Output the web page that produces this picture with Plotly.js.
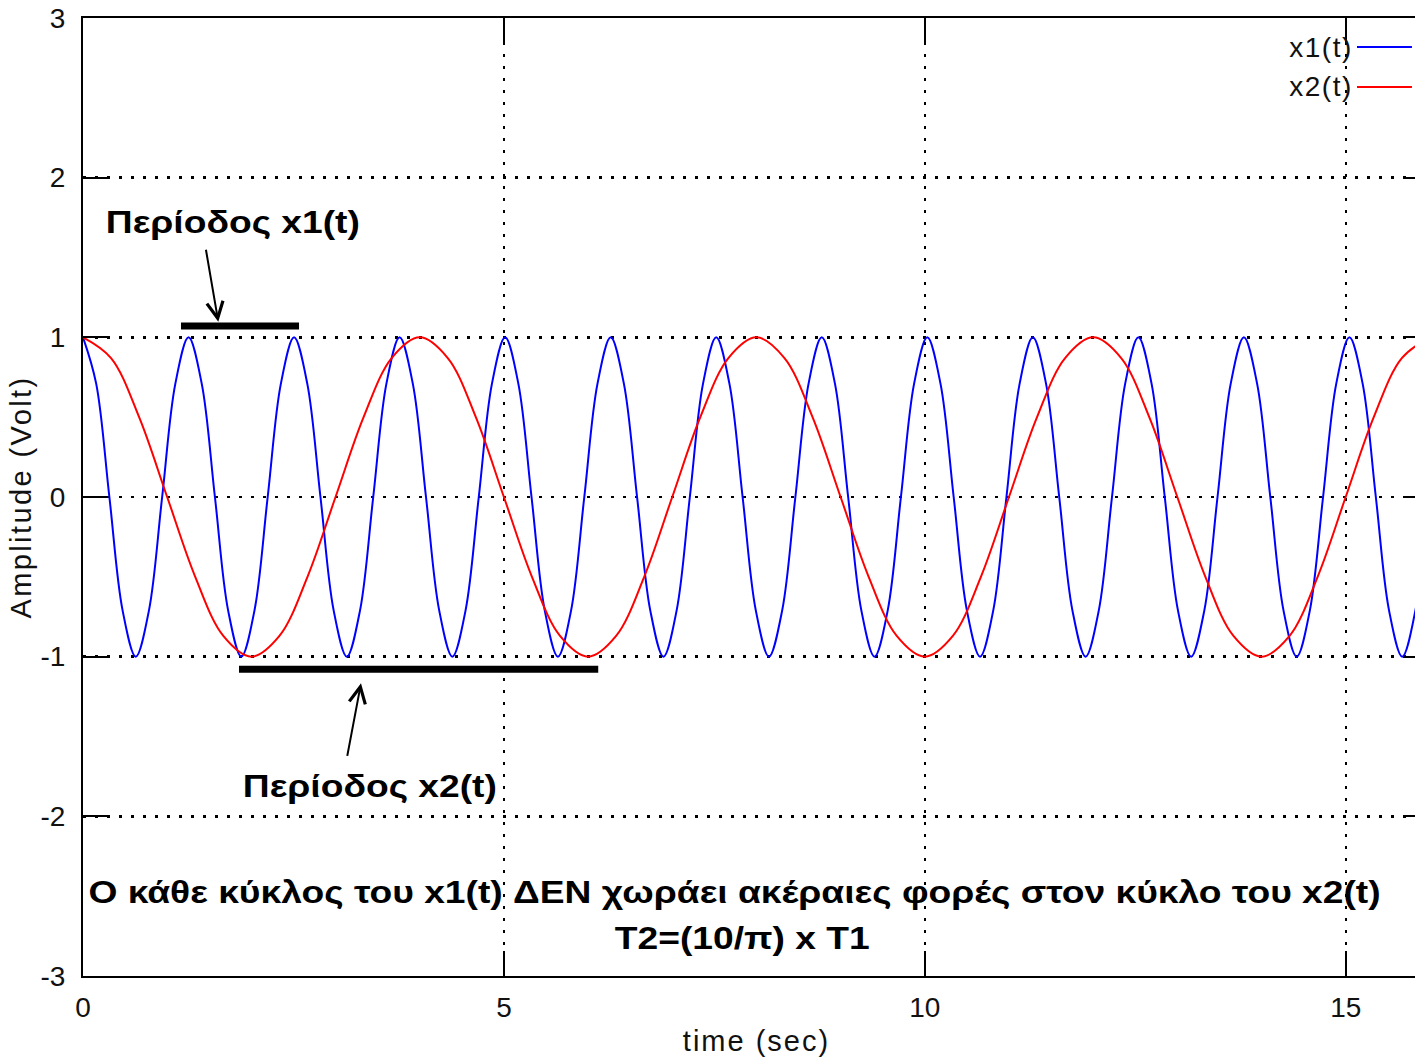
<!DOCTYPE html>
<html><head><meta charset="utf-8">
<script src="https://cdn.plot.ly/plotly-3.0.1.min.js"></script>
<style>
html,body{margin:0;padding:0;overflow:hidden;background:#fff}
#chart{width:1430px;height:1057px}
.xtitle{letter-spacing:2px}
.ytitle{letter-spacing:2.4px}
.annotation[data-index="0"] .annotation-text,
.annotation[data-index="1"] .annotation-text{letter-spacing:1.5px}
.annotation[data-index="2"] .annotation-text,
.annotation[data-index="3"] .annotation-text,
.annotation[data-index="6"] .annotation-text,
.annotation[data-index="7"] .annotation-text{transform-box:fill-box;transform-origin:center;transform:scaleX(1.2)}
</style></head><body><div id="chart"></div>
<script>
// ---- data ----
const seriesNames = ['x1(t)', 'x2(t)'];
const seriesColors = ['#0000ff', '#ff0000'];

// x1(t): samples every 0.1567 s (8 per cycle), starting at t = 0
const x1Start = 0;
const x1Step = 0.1567;
const x1Values = [
  1, 0.71, 0, -0.71, -1, -0.71, 0, 0.71,
  1, 0.71, 0, -0.71, -1, -0.71, 0, 0.71,
  1, 0.71, 0, -0.71, -1, -0.71, 0, 0.71,
  1, 0.71, 0, -0.71, -1, -0.71, 0, 0.71,
  1, 0.71, 0, -0.71, -1, -0.71, 0, 0.71,
  1, 0.71, 0, -0.71, -1, -0.71, 0, 0.71,
  1, 0.71, 0, -0.71, -1, -0.71, 0, 0.71,
  1, 0.71, 0, -0.71, -1, -0.71, 0, 0.71,
  1, 0.71, 0, -0.71, -1, -0.71, 0, 0.71,
  1, 0.71, 0, -0.71, -1, -0.71, 0, 0.71,
  1, 0.71, 0, -0.71, -1, -0.71, 0, 0.71,
  1, 0.71, 0, -0.71, -1, -0.71, 0, 0.71,
  1, 0.71, 0, -0.71, -1, -0.71, 0
];

// x2(t): samples every 1/3 s (12 per 4 s cycle), starting at t = 0
const x2Start = 0;
const x2Step = 0.3333;
const x2Values = [
  1, 0.87, 0.5, 0, -0.5, -0.87, -1, -0.87, -0.5, 0, 0.5, 0.87,
  1, 0.87, 0.5, 0, -0.5, -0.87, -1, -0.87, -0.5, 0, 0.5, 0.87,
  1, 0.87, 0.5, 0, -0.5, -0.87, -1, -0.87, -0.5, 0, 0.5, 0.87,
  1, 0.87, 0.5, 0, -0.5, -0.87, -1, -0.87, -0.5, 0, 0.5, 0.87,
  1
];

const xTickVals = [0, 5, 10, 15];
const xTickText = ['0', '5', '10', '15'];
const yTickVals = [-3, -2, -1, 0, 1, 2, 3];
const yTickText = ['-3', '-2', '-1', '0', '1', '2', '3'];
const xTitle = 'time (sec)';
const yTitle = 'Amplitude (Volt)';

const label1 = 'Περίοδος x1(t)';
const label2 = 'Περίοδος x2(t)';
const noteLine1 = 'Ο κάθε κύκλος του x1(t) ΔΕΝ χωράει ακέραιες φορές στον κύκλο του x2(t)';
const noteLine2 = 'T2=(10/π) x T1';

// period bars (time span, level)
const period1Span = [1.164, 2.566];
const period1Level = 1.071;
const period2Span = [1.853, 6.12];
const period2Level = -1.079;

// ---- traces ----
const traces = [
  {type: 'scatter', mode: 'lines', name: seriesNames[0], x0: x1Start, dx: x1Step, y: x1Values,
   line: {color: seriesColors[0], width: 2, shape: 'spline'}, hoverinfo: 'skip'},
  {type: 'scatter', mode: 'lines', name: seriesNames[1], x0: x2Start, dx: x2Step, y: x2Values,
   line: {color: seriesColors[1], width: 2, shape: 'spline'}, hoverinfo: 'skip'}
];

const axisCommon = {
  ticks: 'inside', ticklen: 25, tickwidth: 2, tickcolor: '#000',
  showline: true, linewidth: 2, linecolor: '#000', mirror: 'ticks',
  showgrid: true, gridcolor: '#000', gridwidth: 2.5, griddash: '3px,9px',
  zeroline: false, tickmode: 'array',
  tickfont: {family: 'Liberation Sans, Arial, sans-serif', size: 28, color: '#111'}
};

const boldFont = {family: 'Liberation Sans, Arial, sans-serif', size: 31, color: '#000', weight: 'bold'};
const legFont = {family: 'Liberation Sans, Arial, sans-serif', size: 28, color: '#111'};

const layout = {
  width: 1430, height: 1057,
  margin: {l: 83, r: 0, t: 18, b: 81},
  paper_bgcolor: '#fff', plot_bgcolor: '#fff',
  showlegend: false,
  font: {family: 'Liberation Sans, Arial, sans-serif', size: 28, color: '#111'},
  xaxis: Object.assign({}, axisCommon, {
    range: [0, 16], tickvals: xTickVals, ticktext: xTickText, ticklabelstandoff: 5,
    title: {text: xTitle, standoff: 11, font: {size: 29, color: '#111'}}
  }),
  yaxis: Object.assign({}, axisCommon, {
    range: [-3, 3], tickvals: yTickVals, ticktext: yTickText, ticklabelstandoff: 10,
    title: {text: yTitle, standoff: 0, font: {size: 29, color: '#111'}}
  }),
  shapes: [
    {type: 'line', xref: 'x', yref: 'y', x0: period1Span[0], x1: period1Span[1], y0: period1Level, y1: period1Level,
     line: {color: '#000', width: 7}},
    {type: 'line', xref: 'x', yref: 'y', x0: period2Span[0], x1: period2Span[1], y0: period2Level, y1: period2Level,
     line: {color: '#000', width: 7}},
    {type: 'line', xref: 'paper', yref: 'paper', x0: 0.9458, x1: 0.9866, y0: 0.9697, y1: 0.9697,
     line: {color: seriesColors[0], width: 2}},
    {type: 'line', xref: 'paper', yref: 'paper', x0: 0.9458, x1: 0.9866, y0: 0.928, y1: 0.928,
     line: {color: seriesColors[1], width: 2}}
  ],
  annotations: [
    {xref: 'paper', yref: 'paper', x: 0.9412, y: 0.9697, xanchor: 'right', yanchor: 'middle',
     text: seriesNames[0], showarrow: false, font: legFont},
    {xref: 'paper', yref: 'paper', x: 0.9412, y: 0.928, xanchor: 'right', yanchor: 'middle',
     text: seriesNames[1], showarrow: false, font: legFont},
    {xref: 'x', yref: 'y', x: 1.782, y: 1.722, text: label1, showarrow: false, font: boldFont,
     xanchor: 'center', yanchor: 'middle'},
    {xref: 'x', yref: 'y', x: 3.409, y: -1.816, text: label2, showarrow: false, font: boldFont,
     xanchor: 'center', yanchor: 'middle'},
    {xref: 'x', yref: 'y', x: 1.607, y: 1.098, text: '', showarrow: true, ax: -12.6, ay: -73.4,
     arrowhead: 5, arrowsize: 1.6, arrowwidth: 2, arrowcolor: '#000', standoff: 0},
    {xref: 'x', yref: 'y', x: 3.302, y: -1.167, text: '', showarrow: true, ax: -14, ay: 74,
     arrowhead: 5, arrowsize: 1.6, arrowwidth: 2, arrowcolor: '#000', standoff: 0},
    {xref: 'x', yref: 'y', x: 7.744, y: -2.48, text: noteLine1, showarrow: false, font: boldFont,
     xanchor: 'center', yanchor: 'middle'},
    {xref: 'x', yref: 'y', x: 7.83, y: -2.762, text: noteLine2, showarrow: false, font: boldFont,
     xanchor: 'center', yanchor: 'middle'}
  ]
};

Plotly.newPlot('chart', traces, layout, {displayModeBar: false, staticPlot: true});
</script>
</body></html>
